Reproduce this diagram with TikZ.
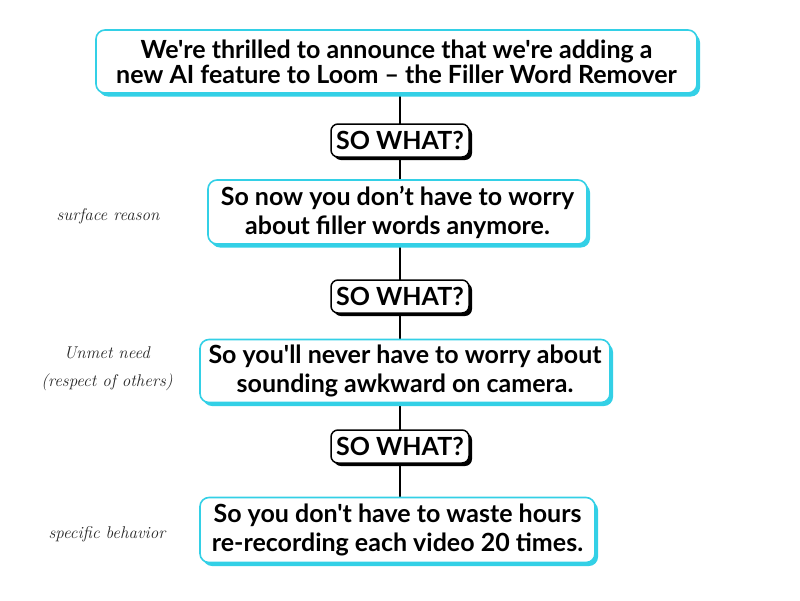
\documentclass[tikz,border=0pt]{standalone}
\usepackage{fontspec}
\newfontfamily\lato{Lato}
\usetikzlibrary{shadows,backgrounds}
\definecolor{cy}{HTML}{33D0E6}
\tikzset{
  mainbox/.style={draw=cy, line width=1.6pt, rounded corners=9pt, fill=white,
    align=center, font=\lato\bfseries\fontsize{25}{29}\selectfont, inner sep=0pt,
    drop shadow={shadow xshift=3pt, shadow yshift=-3.5pt, fill=cy, opacity=1}},
  sowhat/.style={draw=black, line width=1.5pt, rounded corners=7pt, fill=white,
    font=\lato\bfseries\fontsize{25}{29}\selectfont, inner sep=0pt,
    minimum width=138pt, minimum height=33pt,
    drop shadow={shadow xshift=3pt, shadow yshift=-3pt, fill=black, opacity=1}},
  hand/.style={font=\fontfamily{lmr}\itshape\selectfont\fontsize{17}{28}\selectfont, align=center, text=black!85}
}
\begin{document}
\begin{tikzpicture}[x=1pt,y=-1pt]
\useasboundingbox (0,0) rectangle (800,600);
\node[mainbox, minimum width=601pt, minimum height=63pt,
  font=\lato\bfseries\fontsize{25}{25}\selectfont] (b1) at (396.5,61.5)
  {We're thrilled to announce that we're adding a\\new AI feature to Loom – the Filler Word Remover};
\node[sowhat] (s1) at (400,140.5) {SO WHAT?};
\node[mainbox, minimum width=379pt, minimum height=64pt] (b2) at (397.5,212)
  {So now you don’t have to worry\\about filler words anymore.};
\node[sowhat] (s2) at (400,296.5) {SO WHAT?};
\node[mainbox, minimum width=410pt, minimum height=63pt] (b3) at (405,371)
  {So you'll never have to worry about\\sounding awkward on camera.};
\node[sowhat] (s3) at (400,446.5) {SO WHAT?};
\node[mainbox, minimum width=395pt, minimum height=65pt] (b4) at (397.5,530)
  {So you don't have to waste hours\\re-recording each video 20 times.};
\begin{scope}[on background layer]
\draw[line width=2pt] (s1.north |- b1.south) -- (s1.south |- b4.north);
\end{scope}
\node[hand] (l1) at (108,216) {surface reason};
\node[hand] (l2) at (107,369) {Unmet need\\(respect of others)};
\node[hand] (l3) at (107,534) {specific behavior};
\end{tikzpicture}
\end{document}
